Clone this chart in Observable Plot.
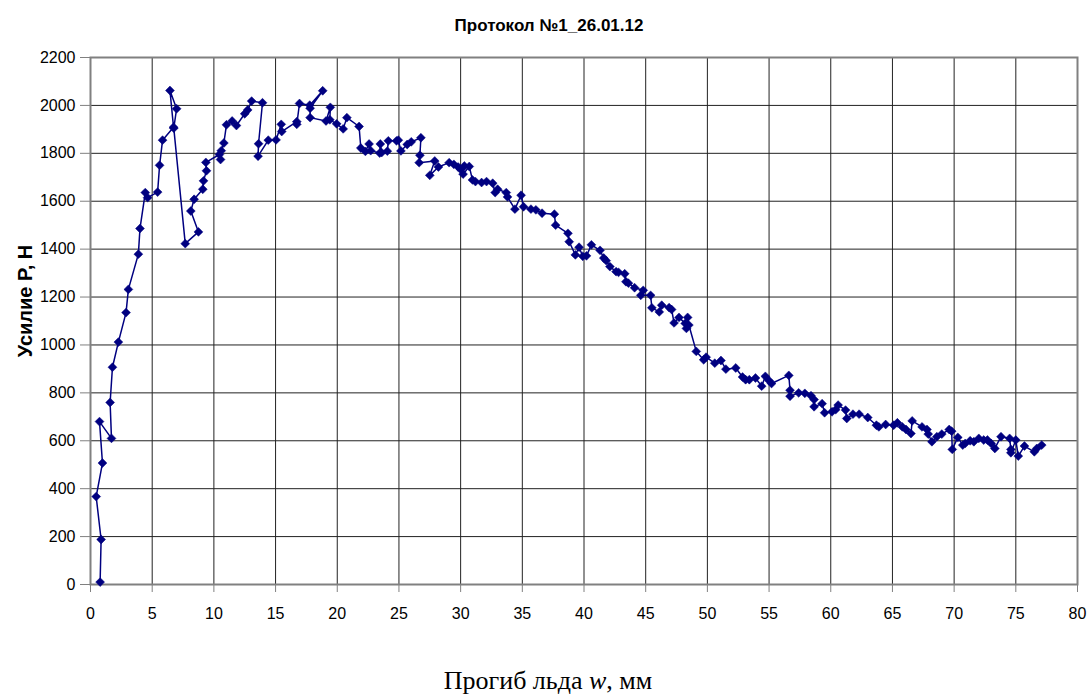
<!DOCTYPE html>
<html>
<head>
<meta charset="utf-8">
<script src="https://cdn.jsdelivr.net/npm/d3@7"></script>
<script src="https://cdn.jsdelivr.net/npm/@observablehq/plot@0.6"></script>
<style>
  html, body { margin: 0; padding: 0; background: #fff; }
  #wrap { position: relative; width: 1090px; height: 699px; overflow: hidden; }
  .lbl { position: absolute; white-space: nowrap; transform: translate(-50%, -50%); color: #000; }
  #title { left: 549px; top: 26px; font: bold 17px "Liberation Sans", Arial, sans-serif; }
  #ylab { left: 25px; top: 301px; font: bold 20px "Liberation Sans", Arial, sans-serif; transform: translate(-50%, -50%) rotate(-90deg); }
  #xlab { left: 548px; top: 681px; font: 26px "Liberation Serif", "Times New Roman", serif; }
</style>
</head>
<body>
<div id="wrap">
  <div id="chart"></div>
  <div class="lbl" id="title">Протокол №1_26.01.12</div>
  <div class="lbl" id="ylab">Усилие P, Н</div>
  <div class="lbl" id="xlab">Прогиб льда <i>w</i>, мм</div>
</div>
<script>
// Deflection w, mm
const deflection = [
  0.78, 0.86, 0.46, 0.97, 0.73, 1.70, 1.59, 1.78, 2.26, 2.88,
  3.07, 3.88, 4.01, 4.44, 4.63, 5.44, 5.60, 5.84, 6.73, 6.44,
  6.98, 6.75, 7.68, 8.75, 8.13, 8.40, 9.10, 9.16, 9.40, 9.35,
  10.45, 10.54, 10.60, 10.81, 11.02, 11.48, 11.83, 12.50, 12.74, 13.06,
  13.94, 13.62, 13.58, 14.41, 15.04, 15.46, 15.50, 16.72, 16.72, 16.94,
  17.77, 18.82, 17.80, 17.80, 19.09, 19.44, 19.40, 19.95, 20.48, 20.78,
  21.77, 21.91, 22.28, 22.58, 22.71, 23.44, 23.49, 23.60, 24.06, 24.14,
  24.80, 24.95, 25.16, 25.67, 26.00, 26.78, 26.70, 26.64, 27.90, 27.50,
  28.20, 29.07, 29.45, 29.80, 30.00, 30.30, 30.20, 30.70, 30.96, 31.20,
  31.70, 32.10, 32.60, 32.80, 33.00, 33.70, 33.80, 34.40, 34.90, 35.10,
  35.70, 36.10, 36.60, 37.60, 37.70, 38.70, 38.80, 39.30, 39.60, 39.90,
  40.20, 40.60, 41.30, 41.60, 41.80, 42.10, 42.60, 42.80, 43.30, 43.40,
  43.60, 44.10, 44.80, 44.60, 45.40, 45.50, 46.10, 46.30, 46.90, 47.10,
  47.30, 47.70, 48.20, 48.30, 48.40, 48.50, 49.10, 49.70, 49.90, 50.60,
  51.10, 51.50, 52.30, 52.85, 53.10, 53.40, 53.90, 54.40, 54.70, 55.00,
  55.20, 56.60, 56.70, 56.70, 57.40, 57.90, 58.40, 58.65, 58.65, 59.30,
  59.50, 60.10, 60.40, 60.60, 61.20, 61.30, 61.80, 62.30, 63.00, 63.70,
  63.90, 64.45, 65.10, 65.40, 65.80, 66.10, 66.50, 66.60, 67.40, 67.80,
  67.90, 68.20, 68.60, 69.00, 69.60, 69.80, 69.85, 70.30, 70.70, 70.90,
  71.30, 71.60, 72.00, 72.40, 72.70, 73.00, 73.30, 73.80, 74.50, 74.60,
  74.60, 75.00, 75.20, 75.70, 76.50, 76.70, 77.10
];
// Force P, N
const force = [
  10, 188, 367, 507, 680, 610, 760, 907, 1012, 1135,
  1232, 1379, 1486, 1636, 1615, 1638, 1750, 1855, 1909, 2062,
  1986, 1905, 1423, 1472, 1559, 1608, 1650, 1685, 1727, 1762,
  1795, 1774, 1811, 1843, 1919, 1935, 1916, 1965, 1981, 2018,
  2011, 1840, 1788, 1855, 1856, 1921, 1891, 1932, 1921, 2008,
  2001, 2061, 1988, 1949, 1935, 1992, 1940, 1923, 1902, 1949,
  1912, 1822, 1808, 1839, 1811, 1801, 1839, 1803, 1809, 1852,
  1852, 1855, 1810, 1837, 1848, 1865, 1792, 1761, 1768, 1708,
  1743, 1761, 1754, 1743, 1733, 1747, 1713, 1745, 1689, 1682,
  1678, 1682, 1675, 1636, 1650, 1636, 1618, 1567, 1625, 1577,
  1567, 1564, 1550, 1546, 1500, 1466, 1431, 1376, 1408, 1370,
  1372, 1418, 1395, 1363, 1352, 1327, 1306, 1303, 1297, 1264,
  1258, 1239, 1228, 1207, 1207, 1155, 1138, 1166, 1156, 1148,
  1092, 1115, 1090, 1069, 1115, 1083, 973, 938, 949, 924,
  935, 899, 904, 866, 855, 855, 862, 828, 869, 851,
  839, 873, 811, 786, 800, 798, 788, 772, 742, 755,
  717, 721, 730, 749, 728, 693, 711, 711, 697, 665,
  658, 668, 665, 675, 658, 647, 630, 683, 658, 647,
  628, 596, 617, 628, 647, 640, 564, 614, 582, 589,
  600, 596, 610, 603, 603, 589, 568, 617, 610, 564,
  550, 603, 536, 578, 554, 568, 582
];
const xTicks = [0, 5, 10, 15, 20, 25, 30, 35, 40, 45, 50, 55, 60, 65, 70, 75, 80];
const yTicks = [0, 200, 400, 600, 800, 1000, 1200, 1400, 1600, 1800, 2000, 2200];

const data = deflection.map((w, i) => ({w, p: force[i]}));

const chart = Plot.plot({
  width: 1090,
  height: 699,
  marginLeft: 90,
  marginRight: 13,
  marginTop: 57,
  marginBottom: 115,
  x: {domain: [0, 80], label: null},
  y: {domain: [0, 2200], label: null},
  style: {fontFamily: "'Liberation Sans', Arial, sans-serif", fontSize: "16px", color: "#000", background: "#fff"},
  marks: [
    Plot.gridX(xTicks, {stroke: "#222", strokeOpacity: 1, strokeWidth: 1}),
    Plot.gridY(yTicks, {stroke: "#222", strokeOpacity: 1, strokeWidth: 1}),
    Plot.frame({stroke: "#808080", strokeWidth: 2}),
    Plot.axisX(xTicks, {tickSize: 8, tickPadding: 15, stroke: "#808080", fontSize: 16, tickFormat: d => String(d)}),
    Plot.axisY(yTicks, {tickSize: 10, tickPadding: 5, stroke: "#808080", fontSize: 16, tickFormat: d => String(d)}),
    Plot.line(data, {x: "w", y: "p", stroke: "#000080", strokeWidth: 1.5}),
    Plot.dot(data, {x: "w", y: "p", symbol: "diamond2", r: 4, fill: "#000080", stroke: "#000080", strokeWidth: 0.5})
  ]
});
document.getElementById("chart").append(chart);
</script>
</body>
</html>
